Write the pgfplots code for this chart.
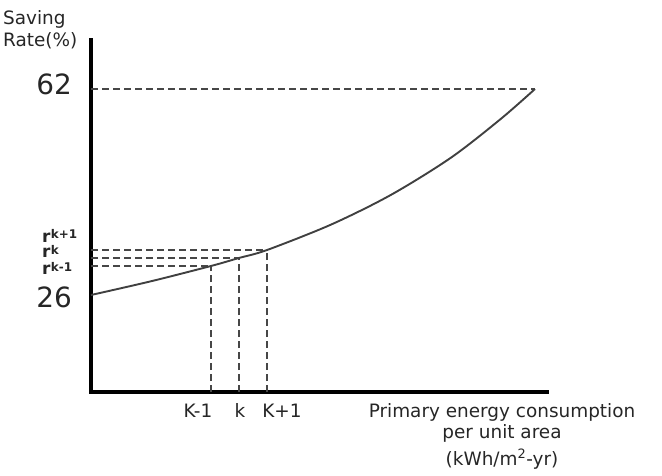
\documentclass[border=0pt]{standalone}
\usepackage{fontspec}
\setmainfont{DejaVu Sans}
\usepackage{pgfplots}
\pgfplotsset{compat=1.18}
\tikzset{
  dline/.style={line width=1.9bp, black!72, dash pattern=on 7bp off 4bp},
  lab/.style={font=\fontsize{18.5}{22}\selectfont, inner sep=0pt, text=black!85},
  rlab/.style={font=\fontsize{17}{18}\selectfont\bfseries, inner sep=0pt, text=black!85, anchor=base west},
}
\newcommand{\rsup}[1]{r\kern0.3bp\raisebox{3.5bp}{\fontsize{12}{12}\selectfont\bfseries #1}}
\begin{document}
\begin{tikzpicture}
\begin{axis}[
  scale only axis, width=456bp, height=352bp,
  xmin=0, xmax=456, ymin=9.05, ymax=70.56,
  axis x line=bottom, axis y line=left,
  axis line style={-, line width=4.5bp, black, line cap=rect},
  xtick=\empty, ytick=\empty,
  clip=false,
  every axis plot/.append style={no marks},
]
% bounding box of the whole picture
\path (axis cs:-91,77.55) rectangle (axis cs:571,-5.46);
% dashed guide lines
\addplot[dline] coordinates {(0,62) (444,62)};
\addplot[dline] coordinates {(0,33.86) (176,33.86)};
\addplot[dline] coordinates {(0,32.47) (148,32.47)};
\addplot[dline] coordinates {(0,31.07) (120,31.07)};
\addplot[dline] coordinates {(120,9.05) (120,31.07)};
\addplot[dline] coordinates {(148,9.05) (148,32.47)};
\addplot[dline] coordinates {(176,9.05) (176,33.86)};
% curve
\addplot[smooth, line width=1.9bp, black!75] coordinates {
 (0,26) (60,28.4) (120,31.07) (148,32.47) (176,33.86) (240,38.3)
 (300,43.5) (360,50.0) (410,56.8) (444,62)};
% labels
\node[lab, anchor=base west] at (axis cs:-88,73.19) {Saving};
\node[lab, anchor=base west] at (axis cs:-88,69.34) {Rate(\%)};
\node[inner sep=0pt, anchor=east, font=\fontsize{28}{32}\selectfont, text=black!85] at (axis cs:-19,62.87) {62};
\node[inner sep=0pt, anchor=east, font=\fontsize{28}{32}\selectfont, text=black!85] at (axis cs:-19,25.56) {26};
\node[rlab] at (axis cs:-49,35.26) {\rsup{k+1}};
\node[rlab] at (axis cs:-49,32.47) {\rsup{k}};
\node[rlab] at (axis cs:-49,29.50) {\rsup{k-1}};
\node[lab, anchor=base] at (axis cs:107,4.68) {K-1};
\node[lab, anchor=base] at (axis cs:149,4.68) {k};
\node[lab, anchor=base] at (axis cs:191,4.68) {K+1};
\node[lab, anchor=base] at (axis cs:411,4.68) {Primary energy consumption};
\node[lab, anchor=base] at (axis cs:411,1.01) {per unit area};
\node[lab, anchor=base] at (axis cs:411,-3.71) {(kWh/m\textsuperscript{2}-yr)};
\end{axis}
\end{tikzpicture}
\end{document}
